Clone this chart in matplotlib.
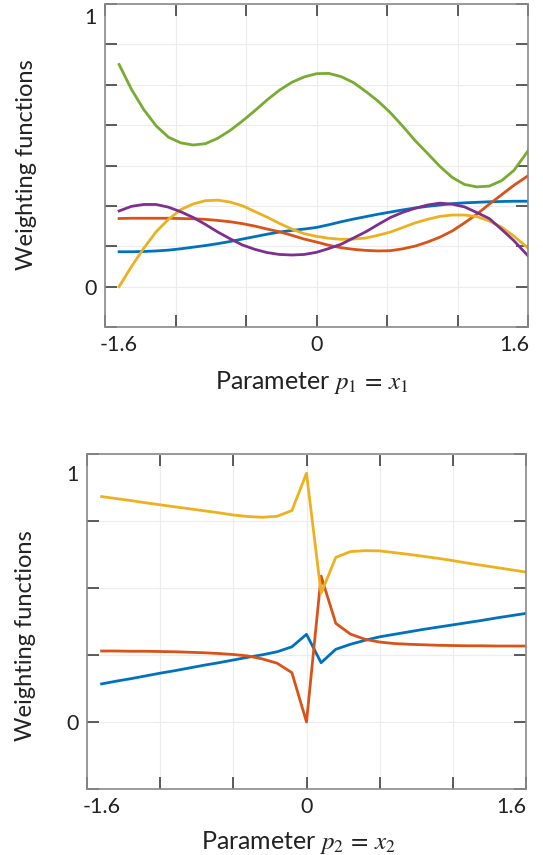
import matplotlib
matplotlib.use("Agg")
import matplotlib.pyplot as plt

plt.rcParams['font.family'] = ['Lato', 'DejaVu Sans']
plt.rcParams['mathtext.fontset'] = 'stix'

# MATLAB default line colours
c_blue = "#0072BD"
c_orange = "#D95319"
c_yellow = "#EDB120"
c_purple = "#7E2F8E"
c_green = "#77AC30"

# --- top panel: weighting functions over p1 = x1 ---
x1 = [-1.6, -1.5, -1.4, -1.3, -1.2, -1.1, -1.0, -0.9, -0.8, -0.7, -0.6, -0.5,
      -0.4, -0.3, -0.2, -0.1, 0.0, 0.1, 0.2, 0.3, 0.4, 0.5, 0.6, 0.7, 0.8,
      0.9, 1.0, 1.1, 1.2, 1.3, 1.4, 1.5, 1.6, 1.714]
w1_blue = [0.129, 0.129, 0.130, 0.132, 0.135, 0.140, 0.146, 0.152, 0.159, 0.167,
           0.176, 0.185, 0.194, 0.202, 0.208, 0.213, 0.219, 0.229, 0.240, 0.250,
           0.259, 0.268, 0.276, 0.284, 0.291, 0.297, 0.302, 0.307, 0.310, 0.312,
           0.314, 0.315, 0.316, 0.316]
w1_orange = [0.252, 0.253, 0.253, 0.253, 0.253, 0.252, 0.251, 0.249, 0.245, 0.240,
             0.233, 0.224, 0.213, 0.203, 0.190, 0.176, 0.165, 0.153, 0.144, 0.138,
             0.134, 0.132, 0.133, 0.140, 0.150, 0.165, 0.183, 0.206, 0.236, 0.268,
             0.305, 0.340, 0.375, 0.410]
w1_yellow = [0.000, 0.074, 0.142, 0.203, 0.249, 0.285, 0.306, 0.318, 0.320, 0.313,
             0.299, 0.278, 0.257, 0.234, 0.213, 0.196, 0.186, 0.179, 0.175, 0.176,
             0.180, 0.190, 0.202, 0.219, 0.236, 0.249, 0.260, 0.265, 0.265, 0.259,
             0.243, 0.220, 0.187, 0.143]
w1_purple = [0.280, 0.297, 0.304, 0.304, 0.294, 0.277, 0.256, 0.230, 0.202, 0.177,
             0.154, 0.138, 0.126, 0.119, 0.117, 0.119, 0.127, 0.141, 0.157, 0.180,
             0.203, 0.230, 0.256, 0.275, 0.290, 0.302, 0.309, 0.305, 0.295, 0.274,
             0.252, 0.212, 0.170, 0.114]
w1_green = [0.822, 0.730, 0.655, 0.595, 0.553, 0.532, 0.524, 0.529, 0.549, 0.578,
            0.613, 0.651, 0.691, 0.727, 0.756, 0.776, 0.788, 0.789, 0.777, 0.755,
            0.722, 0.686, 0.643, 0.593, 0.540, 0.493, 0.445, 0.404, 0.378, 0.369,
            0.372, 0.392, 0.430, 0.502]

# --- bottom panel: weighting functions over p2 = x2 ---
x2 = [-1.6, -1.486, -1.371, -1.257, -1.143, -1.029, -0.914, -0.8, -0.686, -0.571,
      -0.457, -0.343, -0.229, -0.114, 0.0, 0.114, 0.229, 0.343, 0.457, 0.571,
      0.686, 0.8, 0.914, 1.029, 1.143, 1.257, 1.371, 1.486, 1.6, 1.714]
w2_blue = [0.153, 0.164, 0.174, 0.185, 0.196, 0.206, 0.217, 0.228, 0.238, 0.249,
           0.260, 0.270, 0.282, 0.302, 0.352, 0.238, 0.292, 0.312, 0.328, 0.342,
           0.352, 0.362, 0.372, 0.381, 0.390, 0.399, 0.408, 0.418, 0.427, 0.436]
w2_orange = [0.285, 0.285, 0.284, 0.284, 0.283, 0.282, 0.280, 0.278, 0.275, 0.271,
             0.265, 0.253, 0.236, 0.198, 0.000, 0.586, 0.396, 0.353, 0.332, 0.321,
             0.315, 0.312, 0.310, 0.308, 0.307, 0.306, 0.306, 0.305, 0.305, 0.305]
w2_yellow = [0.905, 0.897, 0.889, 0.880, 0.872, 0.864, 0.856, 0.848, 0.840, 0.831,
             0.825, 0.822, 0.826, 0.849, 0.999, 0.517, 0.661, 0.684, 0.688, 0.687,
             0.680, 0.673, 0.665, 0.657, 0.648, 0.638, 0.629, 0.620, 0.611, 0.602]

xlim = 12 / 7
xmarks = [-12 / 7, -8 / 7, -4 / 7, 0, 4 / 7, 8 / 7, 12 / 7]
xlabels_pos = [-1.6, 0, 1.6]
xlabels_txt = ["-1.6", "0", "1.6"]

fig = plt.figure(figsize=(5.43, 8.55), dpi=100)
ax1 = fig.add_axes([105 / 543, 1 - 327 / 855, 423 / 543, 323 / 855])
ax2 = fig.add_axes([87 / 543, 1 - 789 / 855, 439 / 543, 335 / 855])


def style(ax, ystep, ykmin, ykmax):
    ax.set_xlim(-xlim, xlim)
    ax.set_ylim(ykmin * ystep, ykmax * ystep)
    ax.xaxis.remove_overlapping_locs = False
    ax.yaxis.remove_overlapping_locs = False
    ymarks = [k * ystep for k in range(ykmin, ykmax + 1)]
    ax.set_xticks(xmarks, labels=[""] * len(xmarks))
    ax.set_yticks(ymarks, labels=[""] * len(ymarks))
    ax.set_xticks(xlabels_pos, labels=xlabels_txt, minor=True)
    ax.set_yticks([0, 1], labels=["0", "1"], minor=True)
    ax.tick_params(which="major", direction="in", length=8.5, width=1.2,
                   color="#404040", top=True, right=True)
    ax.tick_params(which="minor", length=0, labelsize=15.5, colors="#222222")
    ax.tick_params(axis="x", which="minor", pad=6)
    ax.tick_params(axis="y", which="minor", pad=6)
    ax.grid(True, which="major", color="#ececec", lw=0.8)
    for s in ax.spines.values():
        s.set_color("#8a8a8a")
        s.set_linewidth(1.2)


lw = 2.0
ax1.plot(x1, w1_blue, color=c_blue, lw=lw)
ax1.plot(x1, w1_orange, color=c_orange, lw=lw)
ax1.plot(x1, w1_yellow, color=c_yellow, lw=lw)
ax1.plot(x1, w1_purple, color=c_purple, lw=lw)
ax1.plot(x1, w1_green, color=c_green, lw=lw)
style(ax1, 0.1494, -1, 7)

ax2.plot(x2, w2_blue, color=c_blue, lw=lw)
ax2.plot(x2, w2_orange, color=c_orange, lw=lw)
ax2.plot(x2, w2_yellow, color=c_yellow, lw=lw)
style(ax2, 0.269, -1, 4)

fig.text(27 / 543, 1 - 165 / 855, "Weighting functions", rotation=90,
         ha="center", va="center", fontsize=17, color="#222222")
fig.text(26 / 543, 1 - 636 / 855, "Weighting functions", rotation=90,
         ha="center", va="center", fontsize=17, color="#222222")
fig.text(312 / 543, 1 - 382 / 855, r"Parameter $p_1\,=\,x_1$",
         ha="center", va="center", fontsize=18, color="#222222")
fig.text(298 / 543, 1 - 842 / 855, r"Parameter $p_2\,=\,x_2$",
         ha="center", va="center", fontsize=18, color="#222222")

fig.savefig("out.png", dpi=100)
